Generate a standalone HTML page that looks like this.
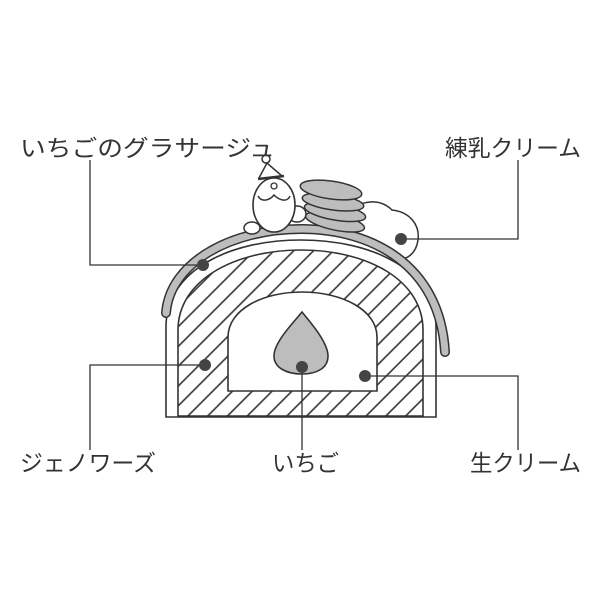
<!DOCTYPE html>
<html><head><meta charset="utf-8"><style>
html,body{margin:0;padding:0;background:#fff;}
svg text{font-family:"Liberation Sans","Noto Sans CJK JP",sans-serif;font-size:23px;fill:#333;}
</style></head><body>
<svg width="600" height="600" viewBox="0 0 600 600" xmlns="http://www.w3.org/2000/svg">
<defs>
<pattern id="h" patternUnits="userSpaceOnUse" width="14" height="14" patternTransform="rotate(-45)">
<rect width="14" height="14" fill="#fff"/>
<line x1="0" y1="7" x2="14" y2="7" stroke="#333" stroke-width="1.6"/>
</pattern>
</defs>
<!-- cream cloud -->
<path d="M350,212 C360,200 380,198 392,210 C410,212 420,225 418,240 C416,255 404,262 395,258 L360,240 Z" fill="#fff" stroke="#333" stroke-width="1.5"/>
<!-- outer cake -->
<path d="M166,417 L166,327 C166,270 230,240 301,240 C372,240 436,270 436,327 L436,417 Z" fill="#fff" stroke="#333" stroke-width="1.6"/>
<!-- hatched -->
<path d="M178,416 L178,330 C178,280 235,250 301,250 C367,250 423,280 423,330 L423,416 Z" fill="url(#h)" stroke="#333" stroke-width="1.6"/>
<!-- cavity -->
<path d="M228,391 L228,337 C228,310 262,292 302,292 C342,292 377,310 377,337 L377,391 Z" fill="#fff" stroke="#333" stroke-width="1.6"/>
<!-- glaze band -->
<path d="M166,313 C170,262 232,229 301,229 C372,229 440,265 445,352" fill="none" stroke="#333" stroke-width="10" stroke-linecap="round"/>
<path d="M166,313 C170,262 232,229 301,229 C372,229 440,265 445,352" fill="none" stroke="#bdbdbd" stroke-width="7" stroke-linecap="round"/>
<!-- strawberry -->
<path d="M302,312 C294,322 274,342 274,356 C274,368 287,374 302,374 C317,374 328,368 328,356 C328,342 310,322 302,312 Z" fill="#bdbdbd" stroke="#333" stroke-width="1.6"/>
<!-- santa -->
<ellipse cx="252" cy="228" rx="8" ry="6" fill="#fff" stroke="#333" stroke-width="1.5"/>
<ellipse cx="297" cy="214" rx="9" ry="8" fill="#fff" stroke="#333" stroke-width="1.5"/>
<ellipse cx="274" cy="205" rx="21" ry="27" fill="#fff" stroke="#333" stroke-width="1.6"/>
<path d="M259,178 L267,163 L282,176" fill="#fff" stroke="#333" stroke-width="1.5"/>
<line x1="258" y1="179" x2="284" y2="176" stroke="#333" stroke-width="2.5"/>
<circle cx="266" cy="159" r="4" fill="#fff" stroke="#333" stroke-width="1.5"/>
<path d="M258,196 C262,203 270,200 274,195 C279,200 287,203 290,196" fill="none" stroke="#333" stroke-width="1.5"/>
<circle cx="274" cy="186" r="3" fill="none" stroke="#333" stroke-width="1.3"/>
<!-- macarons -->
<g stroke="#333" stroke-width="1.5" fill="#bdbdbd">
<ellipse cx="335" cy="222" rx="30" ry="8" transform="rotate(12 335 222)"/>
<ellipse cx="335" cy="212" rx="31" ry="8" transform="rotate(10 335 212)"/>
<ellipse cx="333" cy="202" rx="31" ry="8" transform="rotate(8 333 202)"/>
<ellipse cx="331" cy="190" rx="31" ry="9" transform="rotate(8 331 190)"/>
</g>
<!-- leader lines -->
<g stroke="#333" stroke-width="1.3" fill="none">
<polyline points="90,160 90,265 203,265"/>
<polyline points="518,160 518,239 401,239"/>
<polyline points="205,365 90,365 90,450"/>
<line x1="302" y1="367" x2="302" y2="450"/>
<polyline points="365,376 518,376 518,450"/>
</g>
<!-- dots -->
<g fill="#444">
<circle cx="203" cy="265" r="6"/>
<circle cx="401" cy="239" r="6"/>
<circle cx="205" cy="365" r="6"/>
<circle cx="302" cy="367" r="6"/>
<circle cx="365" cy="376" r="6"/>
</g>
<!-- labels -->
<text x="20" y="156" textLength="255" lengthAdjust="spacingAndGlyphs">いちごのグラサージュ</text>
<text x="445" y="156" textLength="136" lengthAdjust="spacingAndGlyphs">練乳クリーム</text>
<text x="20" y="471" textLength="136" lengthAdjust="spacingAndGlyphs">ジェノワーズ</text>
<text x="272" y="471" textLength="67" lengthAdjust="spacingAndGlyphs">いちご</text>
<text x="470" y="471" textLength="111" lengthAdjust="spacingAndGlyphs">生クリーム</text>
</svg>
</body></html>
